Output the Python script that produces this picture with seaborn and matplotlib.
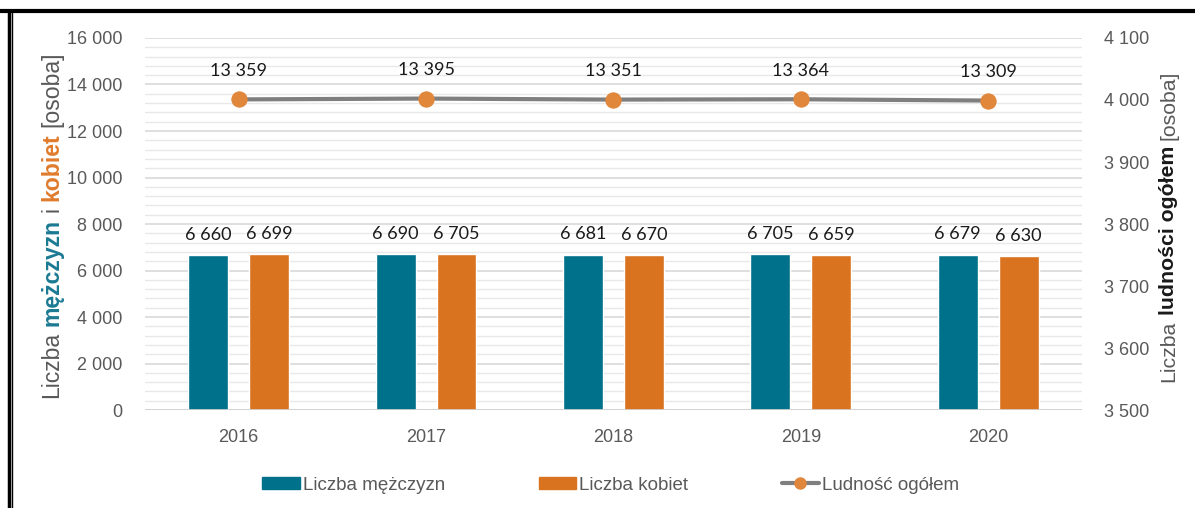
import numpy as np
import pandas as pd
import matplotlib
matplotlib.use("Agg")
import matplotlib.pyplot as plt
import matplotlib.transforms as mtransforms
from matplotlib.lines import Line2D
from matplotlib.patches import Patch
from matplotlib.ticker import MultipleLocator, FuncFormatter
import seaborn as sns

# data
years = ["2016", "2017", "2018", "2019", "2020"]
men = [6660, 6690, 6681, 6705, 6679]
women = [6699, 6705, 6670, 6659, 6630]
total = [13359, 13395, 13351, 13364, 13309]
series_names = ["Liczba mężczyzn", "Liczba kobiet"]
line_name = "Ludność ogółem"

TEAL = "#00718a"
ORANGE = "#d9731f"
MARKER = "#e0873c"
GREY_LINE = "#7f7f7f"
TXT = "#595959"

sns.set_style("white")
plt.rcParams["font.family"] = ["Liberation Sans", "DejaVu Sans"]


def spaced(v, pos=None):
    return f"{int(round(v)):,}".replace(",", " ")


df = pd.DataFrame({
    "rok": years * 2,
    "wartosc": men + women,
    "seria": [series_names[0]] * 5 + [series_names[1]] * 5,
})

fig = plt.figure(figsize=(11.95, 5.08), dpi=100)
ax = fig.add_axes([0.1213, 0.1929, 0.7841, 0.7323])

sns.barplot(data=df, x="rok", y="wartosc", hue="seria", ax=ax,
            palette=[TEAL, ORANGE], width=0.65, gap=0.345,
            saturation=1, legend=False)

sns.lineplot(x=np.arange(len(years)), y=total, ax=ax, color=GREY_LINE,
             linewidth=3, marker="o", markersize=11,
             markerfacecolor=MARKER, markeredgecolor=MARKER, zorder=5)

ax.set_xlim(-0.5, len(years) - 0.5)
ax.set_ylim(0, 16000)
ax.yaxis.set_major_locator(MultipleLocator(2000))
ax.yaxis.set_minor_locator(MultipleLocator(400))
ax.yaxis.set_major_formatter(FuncFormatter(spaced))
ax.grid(axis="y", which="major", color="#d6d6d6", linewidth=1.1)
ax.grid(axis="y", which="minor", color="#e8e8e8", linewidth=1.0)
ax.set_axisbelow(True)
for s in ax.spines.values():
    s.set_visible(False)
ax.axhline(0, color="#d0d0d0", linewidth=1.2, zorder=1)
ax.tick_params(axis="both", which="both", length=0, labelsize=13,
               colors=TXT)
ax.tick_params(axis="y", pad=16)
ax.tick_params(axis="x", pad=14)
ax.set_xlabel("")
ax.set_ylabel("")

# value labels
for cont in ax.containers:
    for bar in cont:
        h = bar.get_height()
        ax.annotate(spaced(h), (bar.get_x() + bar.get_width() / 2, h),
                    xytext=(0, 11), textcoords="offset points",
                    ha="center", va="baseline", fontsize=13,
                    family=["Lato", "DejaVu Sans"], color="#1a1a1a")
for i, v in enumerate(total):
    ax.annotate(spaced(v), (i, v), xytext=(0, 17), textcoords="offset points",
                ha="center", va="baseline", fontsize=13,
                family=["Lato", "DejaVu Sans"], color="#1a1a1a")

# secondary axis
ax2 = ax.twinx()
ax2.set_ylim(3500, 4100)
ax2.yaxis.set_major_locator(MultipleLocator(100))
ax2.yaxis.set_major_formatter(FuncFormatter(spaced))
for s in ax2.spines.values():
    s.set_visible(False)
ax2.tick_params(axis="y", length=0, labelsize=13, colors=TXT, pad=16)
ax2.grid(False)

# legend
handles = [
    Patch(facecolor=TEAL, edgecolor=TEAL),
    Patch(facecolor=ORANGE, edgecolor=ORANGE),
    Line2D([], [], color=GREY_LINE, linewidth=3, marker="o", markersize=8,
           markerfacecolor=MARKER, markeredgecolor=MARKER),
]
fig.legend(handles, series_names + [line_name], loc="center",
           bbox_to_anchor=(0.511, 0.045), ncol=3, frameon=False,
           fontsize=13.5, labelcolor=TXT, handlelength=2.0,
           handleheight=0.55, handletextpad=0.15, columnspacing=5.0)

# multi-coloured rotated axis titles
renderer = fig.canvas.get_renderer()
ident = mtransforms.IdentityTransform()


def vertical_title(x_px, y_mid_px, pieces, size):
    probe_a = fig.text(0, 0, "xx", fontsize=size, transform=ident)
    probe_b = fig.text(0, 0, "x x", fontsize=size, transform=ident)
    gap = (probe_b.get_window_extent(renderer).width
           - probe_a.get_window_extent(renderer).width)
    probe_a.remove()
    probe_b.remove()
    texts = []
    y = 0
    for s, col, wt in pieces:
        t = fig.text(x_px, y, s, rotation=90, ha="center", va="bottom",
                     fontsize=size, color=col, fontweight=wt, transform=ident)
        texts.append(t)
        y += t.get_window_extent(renderer).height + gap
    total_len = y - gap
    y = y_mid_px - total_len / 2
    for t in texts:
        t.set_y(y)
        y += t.get_window_extent(renderer).height + gap


fig_h = 508
vertical_title(52, fig_h - 225, [
    ("Liczba", TXT, "normal"),
    ("mężczyzn", "#1b7a92", "bold"),
    ("i", TXT, "normal"),
    ("kobiet", "#e07b2b", "bold"),
    ("[osoba]", TXT, "normal"),
], 16.6)
vertical_title(1169, fig_h - 226, [
    ("Liczba", TXT, "normal"),
    ("ludności ogółem", "#1a1a1a", "bold"),
    ("[osoba]", TXT, "normal"),
], 15.3)

# frame drawn in the reference screenshot
fig.add_artist(Line2D([0, 1], [1 - 11 / 508, 1 - 11 / 508], color="black",
                      linewidth=3, transform=fig.transFigure))
fig.add_artist(Line2D([8.5 / 1195, 8.5 / 1195], [0, 1 - 11 / 508],
                      color="black", linewidth=2.5, transform=fig.transFigure))
fig.add_artist(Line2D([11.5 / 1195, 11.5 / 1195], [0, 1 - 11 / 508],
                      color="black", linewidth=1, transform=fig.transFigure))

fig.savefig("out.png", dpi=100)
